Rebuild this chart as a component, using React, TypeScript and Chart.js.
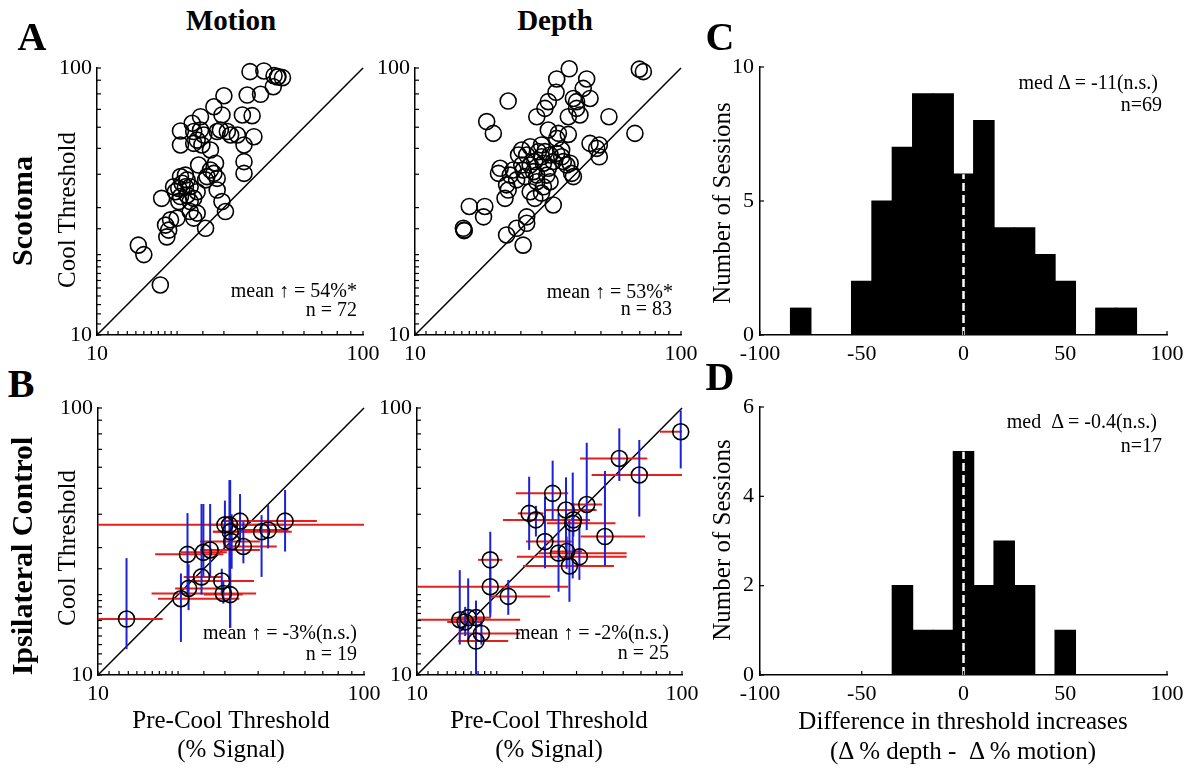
import React, { useEffect, useRef } from 'react';
import { Chart, registerables } from 'chart.js';

Chart.register(...registerables);

const FONT = '"Liberation Serif", "Times New Roman", Times, serif';

// ---------------- data ----------------
const logTickLabels = [10, 100];
const identityLine = [10, 100];

// Panel A – Motion (Scotoma)
const aMotionPre = [37.6, 42.4, 46.3, 47.9, 49.8, 46.0, 41.2, 36.7, 30.0, 27.5, 29.5, 35.2, 38.3, 24.5, 22.8, 20.6, 23.1, 25.2, 29.1, 30.9, 33.7, 38.9, 20.6, 23.8, 23.1, 26.7, 35.7, 35.7, 35.7, 24.1, 27.9, 20.6, 21.5, 21.8, 25.9, 27.5, 28.3, 19.4, 20.3, 22.4, 23.8, 17.5, 20.6, 23.1, 28.3, 29.5, 30.4, 23.8, 20.0, 18.9, 18.1, 18.6, 18.3, 25.6, 23.1, 14.3, 15.0, 17.3, 19.7, 21.8, 25.6, 22.4, 24.8, 31.8, 21.5, 26.7, 20.9, 22.4, 28.3, 47.7, 24.5, 20.3];
const aMotionCool = [96.9, 97.5, 93.6, 92.9, 92.0, 85.1, 79.7, 79.2, 78.7, 71.6, 66.7, 66.7, 66.3, 65.7, 62.1, 58.1, 57.8, 56.1, 58.6, 57.8, 56.1, 55.3, 51.5, 53.7, 52.2, 49.3, 51.5, 44.6, 40.3, 43.3, 44.0, 39.2, 39.7, 38.1, 39.2, 40.3, 38.6, 35.9, 35.4, 35.9, 34.4, 32.5, 33.0, 32.5, 34.9, 31.6, 29.0, 28.6, 27.4, 27.0, 25.8, 24.7, 23.3, 25.1, 27.4, 21.7, 20.0, 15.4, 34.4, 33.4, 38.1, 31.6, 51.5, 56.1, 35.9, 41.5, 37.0, 29.0, 57.8, 92.5, 58.6, 31.6];

// Panel A – Depth (Scotoma)
const aDepthPre = [38.0, 69.7, 72.2, 34.1, 44.2, 42.9, 33.9, 45.5, 39.4, 22.4, 31.7, 30.8, 40.5, 28.7, 37.7, 41.7, 53.6, 18.6, 19.7, 31.7, 34.6, 37.7, 67.1, 45.5, 49.3, 49.3, 25.2, 27.1, 24.5, 29.1, 30.8, 32.2, 29.9, 34.1, 35.6, 36.1, 38.3, 20.9, 20.6, 22.8, 25.5, 27.1, 27.9, 25.9, 24.1, 28.7, 31.3, 31.7, 38.8, 39.4, 22.1, 22.4, 21.8, 28.2, 29.9, 33.1, 16.0, 18.3, 18.1, 15.2, 15.3, 15.3, 26.3, 26.3, 24.1, 22.1, 25.5, 26.3, 28.2, 30.4, 33.1, 25.2, 23.4, 34.1, 30.4, 27.1, 35.6, 29.9, 40.5, 48.2, 32.2, 28.7, 37.2];
const aDepthCool = [99.3, 99.0, 96.9, 91.0, 91.0, 83.9, 81.1, 76.9, 76.9, 75.2, 74.8, 70.6, 70.6, 65.7, 65.7, 66.7, 65.7, 63.0, 56.9, 58.6, 56.9, 56.4, 56.9, 52.2, 51.5, 46.5, 49.3, 50.7, 47.2, 48.6, 48.6, 47.2, 46.5, 47.9, 49.3, 44.6, 44.0, 42.1, 40.3, 39.7, 41.5, 43.3, 40.9, 39.2, 38.1, 37.5, 39.7, 42.1, 40.3, 39.2, 36.5, 34.9, 32.5, 32.5, 34.0, 30.7, 30.3, 30.3, 27.7, 25.1, 24.7, 24.6, 27.7, 26.2, 25.1, 23.7, 21.7, 47.2, 44.6, 44.0, 44.6, 43.3, 41.5, 54.5, 35.9, 34.4, 46.5, 51.5, 74.8, 50.0, 37.5, 39.7, 43.3];

// Panel B – Motion (Ipsilateral control) with error ranges
const bMotionPre = [12.8, 20.5, 21.9, 21.7, 24.5, 24.9, 26.4, 29.2, 29.6, 31.4, 31.2, 34.2, 31.8, 35.2, 31.4, 41.2, 43.6, 50.5, 30.0];
const bMotionCool = [16.2, 19.3, 21.1, 28.3, 23.3, 28.8, 29.4, 22.5, 20.2, 20.0, 36.5, 37.7, 31.6, 30.3, 34.4, 34.4, 34.9, 37.7, 36.5];
const bMotionPreLo = [10.0, 16.8, 19.5, 16.4, 21.0, 20.5, 24.2, 21.9, 15.9, 25.0, 10.0, 29.6, 24.2, 29.6, 27.0, 27.1, 35.0, 29.2, 26.0];
const bMotionPreHi = [17.5, 34.0, 30.0, 29.6, 29.0, 30.5, 40.6, 38.6, 39.3, 35.0, 100, 66.4, 40.6, 47.0, 38.0, 53.5, 52.0, 66.4, 50.0];
const bMotionCoolLo = [12.5, 13.3, 17.5, 20.0, 20.0, 23.3, 23.3, 20.0, 18.5, 15.0, 22.4, 31.6, 25.0, 26.2, 15.0, 23.3, 29.8, 29.0, 30.0];
const bMotionCoolHi = [27.4, 24.0, 26.0, 40.4, 43.7, 43.7, 43.7, 25.0, 22.5, 24.0, 53.7, 47.6, 40.0, 37.5, 53.7, 39.7, 43.3, 49.3, 45.0];

// Panel B – Depth (Ipsilateral control) with error ranges
const bDepthPre = [98.9, 58.0, 69.0, 32.5, 26.5, 28.1, 36.5, 43.7, 38.7, 30.4, 34.2, 37.6, 41.0, 51.2, 18.9, 18.9, 22.1, 14.5, 15.6, 16.7, 17.5, 16.7, 36.7, 38.9, 15.2];
const bDepthCool = [81.5, 64.7, 56.1, 47.9, 40.3, 38.1, 41.5, 43.5, 37.0, 31.6, 28.6, 25.6, 27.7, 33.0, 27.0, 21.4, 19.7, 16.1, 16.4, 16.4, 14.3, 13.4, 29.0, 38.1, 15.8];
const bDepthPreLo = [82.6, 41.2, 45.6, 23.6, 24.0, 21.1, 30.4, 38.0, 30.9, 25.8, 28.7, 25.1, 23.8, 41.5, 17.0, 10.0, 18.8, 10.0, 13.5, 14.5, 14.3, 14.3, 32.0, 34.0, 13.0];
const bDepthPreHi = [100, 74.0, 100, 37.2, 30.0, 42.4, 47.6, 50.0, 56.1, 38.4, 61.8, 55.4, 61.8, 72.5, 21.0, 37.2, 31.8, 24.5, 18.0, 19.0, 24.5, 22.1, 42.0, 45.0, 17.5];
const bDepthCoolLo = [59.4, 53.3, 39.2, 38.1, 29.4, 33.0, 30.0, 34.9, 23.0, 25.1, 20.5, 18.8, 22.7, 25.7, 16.5, 17.0, 16.8, 13.0, 13.5, 14.0, 13.0, 10.0, 25.0, 33.0, 14.0];
const bDepthCoolHi = [98.0, 83.9, 75.9, 63.5, 55.3, 43.0, 55.0, 74.1, 57.3, 46.5, 40.3, 37.5, 35.9, 58.1, 34.4, 25.0, 22.7, 24.7, 23.0, 19.0, 16.0, 17.3, 33.0, 44.0, 18.0];

// Panels C & D – histograms
const binCenters = [-80, -70, -60, -50, -40, -30, -20, -10, 0, 10, 20, 30, 40, 50, 60, 70, 80];
const cCounts = [1, 0, 0, 2, 5, 7, 9, 9, 6, 8, 4, 4, 3, 2, 0, 1, 1];
const dCounts = [0, 0, 0, 0, 0, 2, 1, 1, 5, 2, 3, 2, 0, 1, 0, 0, 0];
const histXTicks = [-100, -50, 0, 50, 100];
const cYTicks = [0, 5, 10];
const dYTicks = [0, 2, 4, 6];
const zeroLineC = [0, 6];
const zeroLineD = [0, 5];

// ---------------- styling / layout ----------------
const RED = '#e3201b';
const BLUE = '#1c22d8';
const PAD_L = 55;
const PAD_T = 22;
const PAD_R = 26;
const PAD_B = 42;

type Area = { l: number; r: number; t: number; b: number };
const areaAM: Area = { l: 97, r: 363, t: 68, b: 335 };
const areaAD: Area = { l: 415, r: 681, t: 68, b: 335 };
const areaBM: Area = { l: 98, r: 364, t: 408, b: 675 };
const areaBD: Area = { l: 417, r: 682, t: 408, b: 675 };
const areaC: Area = { l: 760, r: 1167, t: 67, b: 335 };
const areaD: Area = { l: 760, r: 1167, t: 407, b: 675 };

const inwardTicks = {
  id: 'inwardTicks',
  afterDraw(chart: any) {
    const { ctx, chartArea } = chart;
    ctx.save();
    ctx.strokeStyle = '#000';
    ctx.lineWidth = 1.2;
    const len = 4;
    Object.values(chart.scales).forEach((s: any) => {
      s.ticks.forEach((t: any) => {
        const p = s.getPixelForValue(t.value);
        ctx.beginPath();
        if (s.isHorizontal()) {
          ctx.moveTo(p, chartArea.bottom);
          ctx.lineTo(p, chartArea.bottom - len);
        } else {
          ctx.moveTo(chartArea.left, p);
          ctx.lineTo(chartArea.left + len, p);
        }
        ctx.stroke();
      });
    });
    ctx.restore();
  },
};

const tickFont = { family: FONT, size: 22 };

function axisBase(isX: boolean) {
  return {
    grid: { display: false, drawTicks: false },
    border: { display: true, color: '#000', width: 1.5 },
    afterFit: (s: any) => {
      if (isX) s.height = PAD_B;
      else s.width = PAD_L;
    },
  };
}

function logAxis(isX: boolean) {
  return {
    type: 'logarithmic',
    min: 10,
    max: 100,
    offset: false,
    ...axisBase(isX),
    ticks: {
      autoSkip: false,
      maxRotation: 0,
      minRotation: 0,
      padding: isX ? 6 : 5,
      color: '#000',
      font: tickFont,
      callback: (v: any) => {
        const r = Math.round(Number(v));
        return logTickLabels.includes(r) && Math.abs(Number(v) - r) < 1e-6 ? String(r) : '';
      },
    },
  };
}

function baseOptions() {
  return {
    responsive: false,
    animation: false,
    events: [],
    layout: { padding: { left: 0, top: PAD_T, right: PAD_R, bottom: 0 } },
    plugins: { legend: { display: false }, tooltip: { enabled: false }, title: { display: false } },
  };
}

function scatterConfig(
  pre: number[],
  cool: number[],
  err?: { preLo: number[]; preHi: number[]; coolLo: number[]; coolHi: number[] }
) {
  const datasets: any[] = [];
  datasets.push({
    data: pre.map((x, i) => ({ x, y: cool[i] })),
    showLine: false,
    pointRadius: 8,
    pointBorderWidth: 1.6,
    pointBorderColor: '#000',
    pointBackgroundColor: 'rgba(0,0,0,0)',
    clip: false,
    order: 0,
  });
  if (err) {
    pre.forEach((x, i) => {
      datasets.push({
        data: [
          { x: err.preLo[i], y: cool[i] },
          { x: err.preHi[i], y: cool[i] },
        ],
        showLine: true,
        borderColor: RED,
        borderWidth: 2,
        pointRadius: 0,
        order: 2,
      });
      datasets.push({
        data: [
          { x, y: err.coolLo[i] },
          { x, y: err.coolHi[i] },
        ],
        showLine: true,
        borderColor: BLUE,
        borderWidth: 2,
        pointRadius: 0,
        order: 1,
      });
    });
  }
  datasets.push({
    data: identityLine.map((v) => ({ x: v, y: v })),
    showLine: true,
    borderColor: '#000',
    borderWidth: 1.5,
    pointRadius: 0,
    clip: false,
    order: 3,
  });
  return {
    type: 'scatter',
    data: { datasets },
    options: {
      ...baseOptions(),
      scales: { x: logAxis(true), y: logAxis(false) },
    },
    plugins: [inwardTicks],
  };
}

function histConfig(counts: number[], yTicks: number[], zeroLine: number[]) {
  const yMax = yTicks[yTicks.length - 1];
  return {
    type: 'bar',
    data: {
      datasets: [
        {
          type: 'line',
          data: zeroLine.map((y) => ({ x: 0, y })),
          borderColor: '#fff',
          borderWidth: 2.5,
          borderDash: [8, 4],
          pointRadius: 0,
          order: 0,
        },
        {
          type: 'bar',
          data: binCenters.map((x, i) => ({ x, y: counts[i] })),
          backgroundColor: '#000',
          borderWidth: 0,
          barPercentage: 1,
          categoryPercentage: 1,
          inflateAmount: 0.6,
          order: 1,
        },
      ],
    },
    options: {
      ...baseOptions(),
      scales: {
        x: {
          type: 'linear',
          min: -100,
          max: 100,
          offset: false,
          ...axisBase(true),
          afterBuildTicks: (s: any) => {
            s.ticks = histXTicks.map((v) => ({ value: v }));
          },
          ticks: { autoSkip: false, maxRotation: 0, padding: 6, color: '#000', font: tickFont, callback: (v: any) => String(v) },
        },
        y: {
          type: 'linear',
          min: 0,
          max: yMax,
          ...axisBase(false),
          afterBuildTicks: (s: any) => {
            s.ticks = yTicks.map((v) => ({ value: v }));
          },
          ticks: { autoSkip: false, padding: 6, color: '#000', font: tickFont, callback: (v: any) => String(v) },
        },
      },
    },
    plugins: [inwardTicks],
  };
}

function ChartBox({ area, build }: { area: Area; build: () => any }) {
  const ref = useRef<HTMLCanvasElement>(null);
  const x = area.l - PAD_L;
  const y = area.t - PAD_T;
  const w = area.r - area.l + PAD_L + PAD_R;
  const h = area.b - area.t + PAD_T + PAD_B;
  useEffect(() => {
    const chart = new Chart(ref.current as HTMLCanvasElement, build() as any);
    return () => chart.destroy();
  }, []);
  return (
    <canvas
      ref={ref}
      width={w}
      height={h}
      style={{ position: 'absolute', left: x, top: y, width: w, height: h }}
    />
  );
}

function T({
  x,
  y,
  text,
  size,
  bold,
  rotate,
  anchor,
}: {
  x: number;
  y: number;
  text: string;
  size: number;
  bold?: boolean;
  rotate?: boolean;
  anchor?: 'center' | 'right';
}) {
  const tx = anchor === 'right' ? '-100%' : '-50%';
  return (
    <div
      style={{
        position: 'absolute',
        left: x,
        top: y,
        transform: `translate(${tx}, -50%)${rotate ? ' rotate(-90deg)' : ''}`,
        transformOrigin: anchor === 'right' ? '100% 50%' : '50% 50%',
        fontFamily: FONT,
        fontSize: size,
        fontWeight: bold ? 'bold' : 'normal',
        lineHeight: 1,
        whiteSpace: 'pre',
        color: '#000',
      }}
    >
      {text}
    </div>
  );
}

export default function App() {
  return (
    <div
      style={{
        position: 'absolute',
        left: 0,
        top: 0,
        width: 1191,
        height: 773,
        background: '#fff',
        overflow: 'hidden',
      }}
    >
      <ChartBox area={areaAM} build={() => scatterConfig(aMotionPre, aMotionCool)} />
      <ChartBox area={areaAD} build={() => scatterConfig(aDepthPre, aDepthCool)} />
      <ChartBox
        area={areaBM}
        build={() =>
          scatterConfig(bMotionPre, bMotionCool, {
            preLo: bMotionPreLo,
            preHi: bMotionPreHi,
            coolLo: bMotionCoolLo,
            coolHi: bMotionCoolHi,
          })
        }
      />
      <ChartBox
        area={areaBD}
        build={() =>
          scatterConfig(bDepthPre, bDepthCool, {
            preLo: bDepthPreLo,
            preHi: bDepthPreHi,
            coolLo: bDepthCoolLo,
            coolHi: bDepthCoolHi,
          })
        }
      />
      <ChartBox area={areaC} build={() => histConfig(cCounts, cYTicks, zeroLineC)} />
      <ChartBox area={areaD} build={() => histConfig(dCounts, dYTicks, zeroLineD)} />

      {/* panel letters and titles */}
      <T x={32} y={37} text="A" size={40} bold />
      <T x={21} y={384} text="B" size={40} bold />
      <T x={720} y={37} text="C" size={40} bold />
      <T x={720} y={377} text="D" size={40} bold />
      <T x={231} y={20} text="Motion" size={29} bold />
      <T x={555} y={20} text="Depth" size={29} bold />
      <T x={22} y={211} text="Scotoma" size={30} bold rotate />
      <T x={22} y={556} text="Ipsilateral Control" size={30} bold rotate />

      {/* axis titles */}
      <T x={66} y={210} text="Cool Threshold" size={25} rotate />
      <T x={66} y={548} text="Cool Threshold" size={25} rotate />
      <T x={721} y={203} text="Number of Sessions" size={25} rotate />
      <T x={721} y={540} text="Number of Sessions" size={25} rotate />
      <T x={231} y={719} text="Pre-Cool Threshold" size={25} />
      <T x={231} y={748} text="(% Signal)" size={25} />
      <T x={549} y={719} text="Pre-Cool Threshold" size={25} />
      <T x={549} y={748} text="(% Signal)" size={25} />
      <T x={963} y={720} text="Difference in threshold increases" size={25} />
      <T x={963} y={750} text="(Δ % depth -  Δ % motion)" size={25} />

      {/* annotations */}
      <T x={357} y={290} text="mean ↑ = 54%*" size={20} anchor="right" />
      <T x={357} y={309} text="n = 72" size={20} anchor="right" />
      <T x={673} y={291} text="mean ↑ = 53%*" size={20} anchor="right" />
      <T x={672} y={308} text="n = 83" size={20} anchor="right" />
      <T x={357} y={632} text="mean ↑ = -3%(n.s.)" size={20} anchor="right" />
      <T x={357} y={653} text="n = 19" size={20} anchor="right" />
      <T x={669} y={632} text="mean ↑ = -2%(n.s.)" size={20} anchor="right" />
      <T x={669} y={652} text="n = 25" size={20} anchor="right" />
      <T x={1158} y={82} text="med Δ = -11(n.s.)" size={20} anchor="right" />
      <T x={1162} y={104} text="n=69" size={20} anchor="right" />
      <T x={1157} y={421} text="med  Δ = -0.4(n.s.)" size={20} anchor="right" />
      <T x={1162} y={445} text="n=17" size={20} anchor="right" />
    </div>
  );
}
